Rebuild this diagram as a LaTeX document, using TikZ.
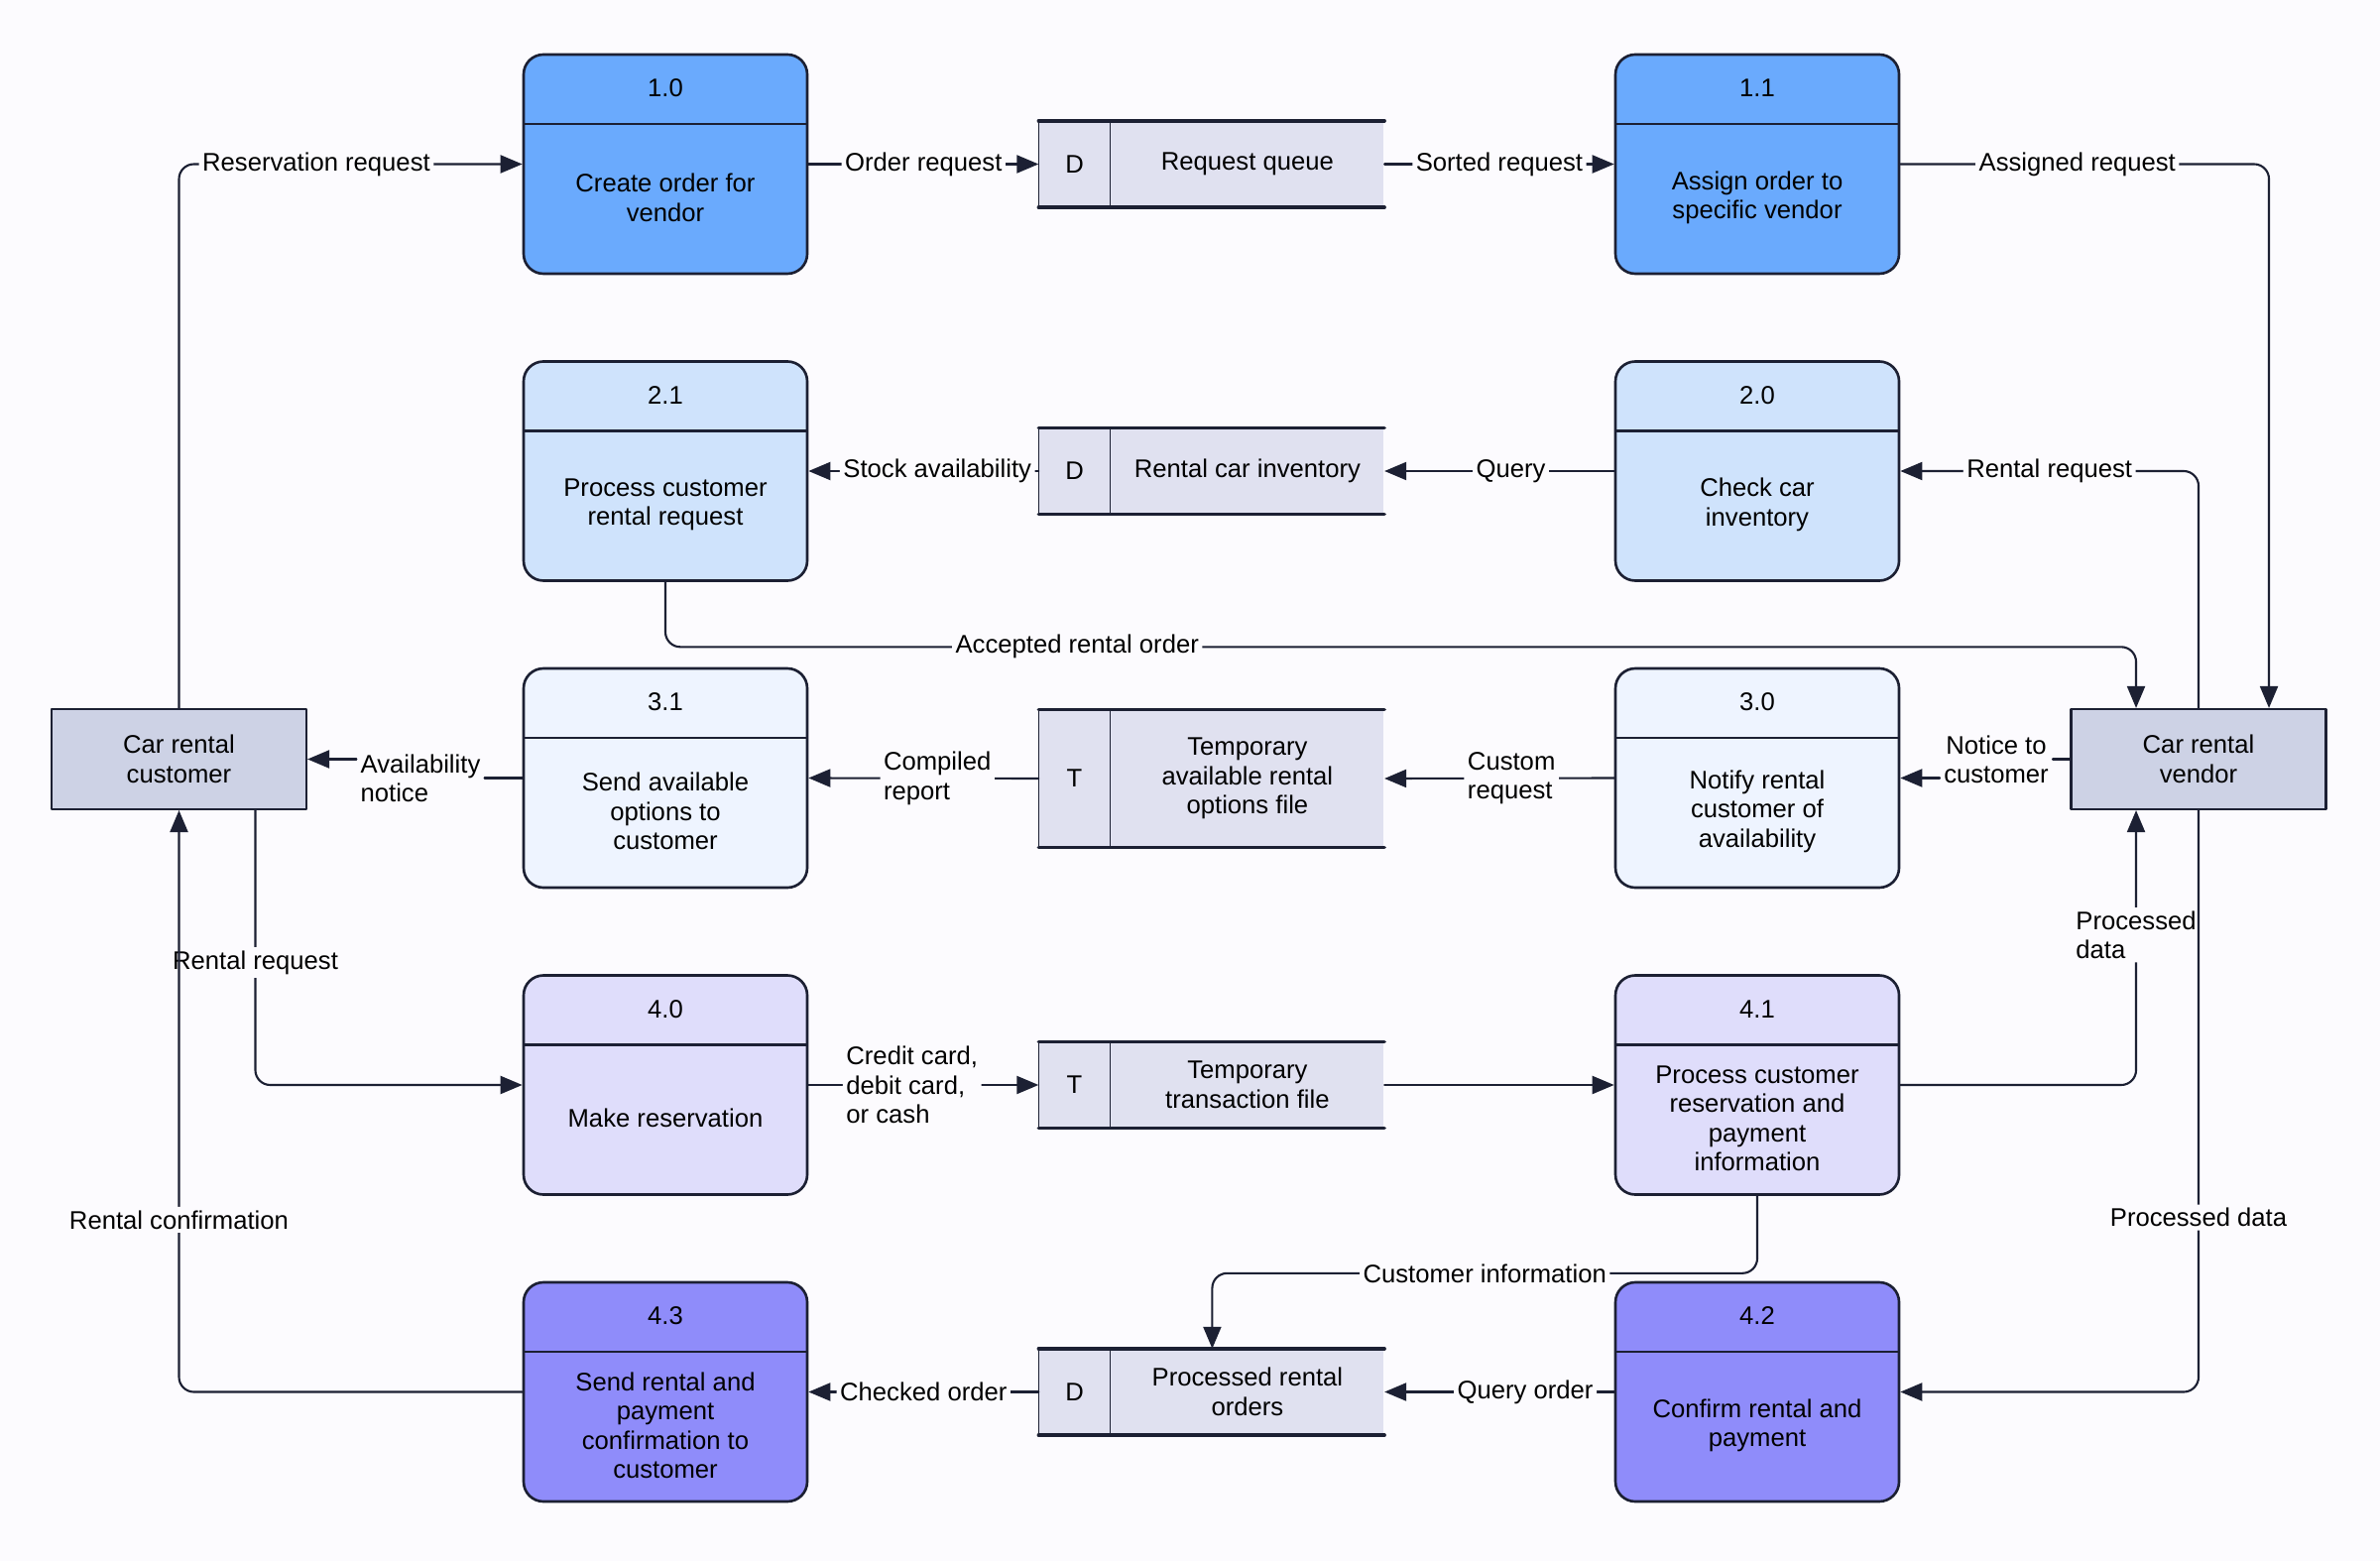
\documentclass[tikz,border=0pt]{standalone}
\usepackage{fontspec}
\setmainfont{Liberation Sans}
\usetikzlibrary{arrows.meta,positioning,calc}
\definecolor{ink}{HTML}{1C2033}
\definecolor{bg}{HTML}{FCFBFE}
\definecolor{pone}{HTML}{6AAAFD}
\definecolor{ptwo}{HTML}{CFE3FC}
\definecolor{pthree}{HTML}{EEF4FF}
\definecolor{pfour}{HTML}{DFDDFB}
\definecolor{pfive}{HTML}{8F8CFA}
\definecolor{storefill}{HTML}{E0E1F0}
\definecolor{entfill}{HTML}{CDD2E5}

\begin{document}
\begin{tikzpicture}[line cap=round,line join=round,
  font=\fontsize{7.3}{8.4}\selectfont,
  >={Triangle[length=2.2mm,width=1.8mm]},
  proc/.style={draw=ink, line width=0.75pt, rounded corners=2mm,
    minimum width=2.86cm, minimum height=2.21cm, inner sep=0pt,
    path picture={\draw[ink, line width=0.75pt]
      ([yshift=-7mm]path picture bounding box.north west) --
      ([yshift=-7mm]path picture bounding box.north east);}},
  num/.style={anchor=center, yshift=-3.5mm, inner sep=0pt},
  ptext/.style={align=center, inner sep=0pt},
  sid/.style={fill=storefill, minimum width=0.71cm, minimum height=0.86cm, inner sep=0pt},
  sbody/.style={fill=storefill, minimum width=2.75cm, minimum height=0.86cm,
    inner sep=0pt, align=center},
  stline/.style={draw=ink, line width=1pt},
  sdiv/.style={draw=ink, line width=0.4pt},
  ent/.style={draw=ink, line width=0.6pt, fill=entfill, minimum width=2.57cm,
    minimum height=1.01cm, align=center},
  flow/.style={draw=ink, line width=0.6pt, rounded corners=1.5mm, ->},
  wire/.style={draw=ink, line width=0.6pt},
  lbl/.style={fill=bg, inner sep=1pt, align=center}]
  \fill[bg] (0,0) rectangle (24,-15.74);
  \useasboundingbox (0,0) rectangle (24,-15.74);
  % processes
  \node[proc, fill=pone, label={[num]north:1.0}] (p10) at (6.71,-1.655) {};
  \node[ptext] (p10t) at ([yshift=-14.55mm]p10.north) {Create order for\\vendor};
  \node[proc, fill=pone, label={[num]north:1.1}] (p11) at (17.72,-1.655) {};
  \node[ptext] (p11t) at ([yshift=-14.55mm]p11.north) {Assign order to\\specific vendor};
  \node[proc, fill=ptwo, label={[num]north:2.1}] (p21) at (6.71,-4.75) {};
  \node[ptext] (p21t) at ([yshift=-14.55mm]p21.north) {Process customer\\rental request};
  \node[proc, fill=ptwo, label={[num]north:2.0}] (p20) at (17.72,-4.75) {};
  \node[ptext] (p20t) at ([yshift=-14.55mm]p20.north) {Check car\\inventory};
  \node[proc, fill=pthree, label={[num]north:3.1}] (p31) at (6.71,-7.845) {};
  \node[ptext] (p31t) at ([yshift=-14.55mm]p31.north) {Send available\\options to\\customer};
  \node[proc, fill=pthree, label={[num]north:3.0}] (p30) at (17.72,-7.845) {};
  \node[ptext] (p30t) at ([yshift=-14.55mm]p30.north) {Notify rental\\customer of\\availability};
  \node[proc, fill=pfour, label={[num]north:4.0}] (p40) at (6.71,-10.94) {};
  \node[ptext] (p40t) at ([yshift=-14.55mm]p40.north) {Make reservation};
  \node[proc, fill=pfour, label={[num]north:4.1}] (p41) at (17.72,-10.94) {};
  \node[ptext] (p41t) at ([yshift=-14.55mm]p41.north) {Process customer\\reservation and\\payment\\information};
  \node[proc, fill=pfive, label={[num]north:4.3}] (p43) at (6.71,-14.035) {};
  \node[ptext] (p43t) at ([yshift=-14.55mm]p43.north) {Send rental and\\payment\\confirmation to\\customer};
  \node[proc, fill=pfive, label={[num]north:4.2}] (p42) at (17.72,-14.035) {};
  \node[ptext] (p42t) at ([yshift=-14.55mm]p42.north) {Confirm rental and\\payment};
  % data stores
  \node[sid] (s1d) at (10.835,-1.655) {D};
  \node[sbody, right=0pt of s1d] (s1) {Request queue};
  \node[sid] (s2d) at (10.835,-4.75) {D};
  \node[sbody, right=0pt of s2d] (s2) {Rental car inventory};
  \node[sid, minimum height=1.38cm] (s3d) at (10.835,-7.85) {T};
  \node[sbody, minimum height=1.38cm, right=0pt of s3d] (s3) {Temporary\\available rental\\options file};
  \node[sid] (s4d) at (10.835,-10.94) {T};
  \node[sbody, right=0pt of s4d] (s4) {Temporary\\transaction file};
  \node[sid] (s5d) at (10.835,-14.035) {D};
  \node[sbody, right=0pt of s5d] (s5) {Processed rental\\orders};
  \foreach \s in {s1,s2,s3,s4,s5} {
    \draw[stline] (\s d.north west) -- (\s.north east) (\s d.south west) -- (\s.south east);
    \draw[sdiv] (\s d.north west) -- (\s d.south west) (\s d.north east) -- (\s d.south east);
  }
  % external entities
  \node[ent] (cust) at (1.805,-7.655) {Car rental\\customer};
  \node[ent] (vend) at (22.17,-7.655) {Car rental\\vendor};
  % flows
  \draw[flow] (cust.north) |- node[lbl, pos=0.7] {Reservation request} (p10.west);
  \draw[flow] (p10.east) -- node[lbl] {Order request} (s1d.west);
  \draw[flow] (s1.east) -- node[lbl] {Sorted request} (p11.west);
  \draw[flow] (p11.east) -| node[lbl, pos=0.24] {Assigned request} ([xshift=7.1mm]vend.north);
  \draw[flow] (vend.north) |- node[lbl, pos=0.75] {Rental request} (p20.east);
  \draw[flow] (p20.west) -- node[lbl, pos=0.45] {Query} (s2.east);
  \draw[flow] (s2d.west) -- node[lbl, pos=0.44] {Stock availability} (p21.east);
  \draw[flow] (p21.south) -- ++(0,-0.655) -| node[lbl, pos=0.14] {Accepted rental order} ([xshift=-6.3mm]vend.north);
  \node[lbl] (ntc) at (20.13,-7.66) {Notice to\\customer};
  \draw[wire] (vend.west) -- (ntc.east |- vend.west);
  \draw[flow] (ntc.west |- p30.east) -- (p30.east);
  \draw[flow] (p30.west) -- node[lbl, pos=0.447, align=left] {Custom\\request} (s3.east);
  \draw[flow] (s3d.west) -- node[lbl, pos=0.44, align=left] {Compiled\\report} (p31.east);
  \node[lbl, align=left] (avn) at (4.24,-7.85) {Availability\\notice};
  \draw[wire] (p31.west) -- (avn.east |- p31.west);
  \draw[flow] (avn.west |- cust.east) -- (cust.east);
  \draw[flow] ([xshift=7.7mm]cust.south) |- node[lbl, pos=0.277] {Rental request} (p40.west);
  \draw[flow] (p40.east) -- node[lbl, pos=0.45, align=left] {Credit card,\\debit card,\\or cash} (s4d.west);
  \draw[flow] (s4.east) -- (p41.west);
  \draw[flow] (p41.east) -| node[lbl, pos=0.773, align=left] {Processed\\data} ([xshift=-6.3mm]vend.south);
  \draw[flow] (vend.south) |- node[lbl, pos=0.35] {Processed data} (p42.east);
  \draw[flow] (p41.south) -- ++(0,-0.78) -| node[lbl, pos=0.25] {Customer information} ([xshift=-3.55mm]s5.north);
  \draw[flow] (p42.west) -- node[lbl, pos=0.387] {Query order} (s5.east);
  \draw[flow] (s5d.west) -- node[lbl] {Checked order} (p43.east);
  \draw[flow] (p43.west) -| node[lbl, pos=0.648] {Rental confirmation} (cust.south);
\end{tikzpicture}
\end{document}
